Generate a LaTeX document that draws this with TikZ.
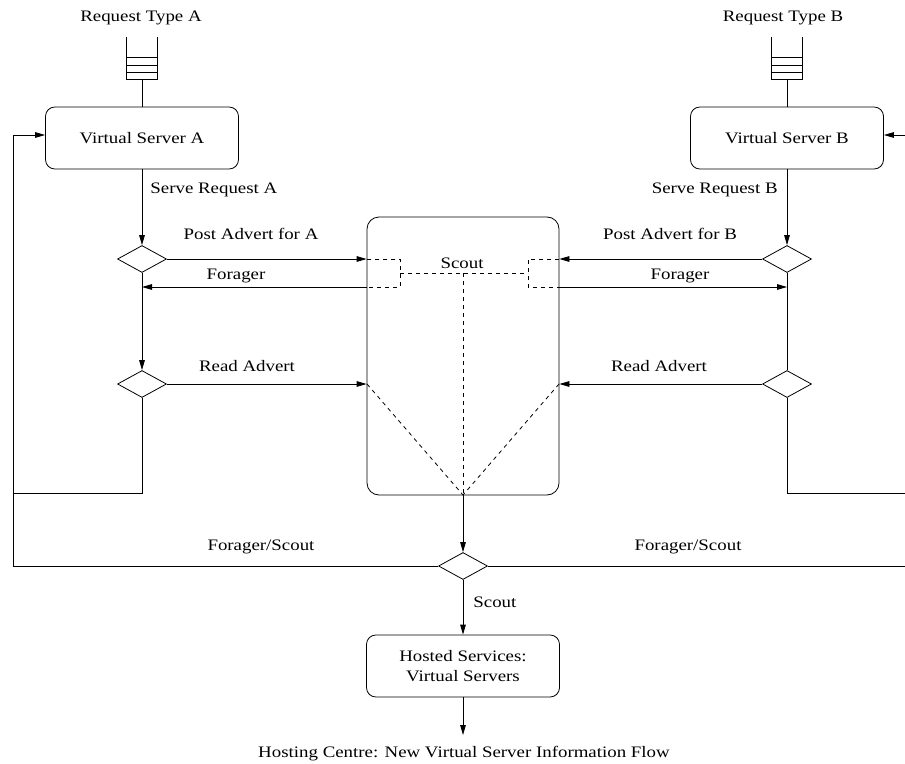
\documentclass[tikz,border=0pt]{standalone}
\usepackage{fontspec}
\setmainfont{Liberation Serif}[FakeStretch=1.18]
\usetikzlibrary{arrows.meta,shapes.geometric}
\begin{document}
\begin{tikzpicture}[x=0.75pt,y=-0.75pt,
  font=\fontsize{12}{14.5}\selectfont, line width=0.6pt,
  box/.style={draw, rounded corners=7pt, inner sep=0pt, minimum width=144.75pt, minimum height=46.5pt},
  bigbox/.style={draw, rounded corners=9pt, inner sep=0pt, minimum width=144pt, minimum height=208.5pt},
  dia/.style={draw, diamond, inner sep=0pt, minimum width=36.75pt, minimum height=20.25pt},
  arr/.style={-{Triangle[length=7.5pt,width=4.2pt]}},
  dsh/.style={dash pattern=on 3pt off 3pt},
  lbl/.style={inner sep=0pt}]
\useasboundingbox (0,0) rectangle (905,763);

% queues
\foreach \cx/\nm in {142/qa,787/qb}{
  \draw (\cx-15.5,37) -- (\cx-15.5,79) -- (\cx+15.5,79) -- (\cx+15.5,37);
  \draw (\cx-15.5,57) -- (\cx+15.5,57);
  \draw (\cx-15.5,65) -- (\cx+15.5,65);
  \draw (\cx-15.5,72) -- (\cx+15.5,72);
  \coordinate (\nm) at (\cx,79);
}
\node[lbl] (rta) at (141,18) {Request Type A};
\node[lbl] (rtb) at (783,18) {Request Type B};

% boxes
\node[box] (vsa) at (142,138) {Virtual Server A};
\node[box] (vsb) at (787,138) {Virtual Server B};
\node[bigbox] (scout) at (463,356) {};
\node[box, align=center] (host) at (463,666) {Hosted Services:\\Virtual Servers};

% diamonds
\node[dia] (a1) at (142,259) {};
\node[dia] (a2) at (142,384) {};
\node[dia] (b1) at (787,259) {};
\node[dia] (b2) at (787,384) {};
\node[dia] (c)  at (463,566) {};

% coordinates
\coordinate (fa) at (367,287);
\coordinate (fb) at (559,287);
\coordinate (la) at (13,493);
\coordinate (lb) at (905,493);
\coordinate (ll) at (13,566);
\coordinate (rl) at (905,566);
\coordinate (rin) at (905,135);
\coordinate (lin) at (13,135);
\coordinate (out) at (463,735);
\coordinate (sc) at (463,273);
\coordinate (sb) at (463,495);

% queue to servers
\draw (qa) -- (vsa.north);
\draw (qb) -- (vsb.north);

% left side
\draw[arr] (vsa.south) -- (a1.north);
\draw[arr] (a1.east) -- (a1.east -| scout.west);
\draw[arr] (fa) -- (fa -| a1);
\draw[arr] (a1.south) -- (a2.north);
\draw[arr] (a2.east) -- (a2.east -| scout.west);
\draw (a2.south) -- (a2 |- la) -- (la);
\draw[arr] (c.west) -- (ll) -- (lin) -- (lin -| vsa.west);

% right side
\draw[arr] (vsb.south) -- (b1.north);
\draw[arr] (b1.west) -- (b1.west -| scout.east);
\draw[arr] (fb) -- (fb -| b1);
\draw (b1.south) -- (b2.north);
\draw[arr] (b2.west) -- (b2.west -| scout.east);
\draw (b2.south) -- (b2 |- lb) -- (lb);
\draw (c.east) -- (rl);
\draw[arr] (rin) -- (rin -| vsb.east);

% centre
\draw[arr] (scout.south) -- (c.north);
\draw[arr] (c.south) -- (host.north);
\draw[arr] (host.south) -- (out);

% dashed scout structure
\draw[dsh] (367,259) -- (400,259) -- (400,287) -- (fa);
\draw[dsh] (559,259) -- (528,259) -- (528,287) -- (fb);
\draw[dsh] (400,273) -- (528,273);
\draw[dsh] (sc) -- (sb);
\draw[dsh] (367,384) -- (sb);
\draw[dsh] (559,384) -- (sb);

% labels
\node[lbl, anchor=west] (sra) at (150,190) {Serve Request A};
\node[lbl, anchor=east] (srb) at (778,190) {Serve Request B};
\node[lbl] (pa) at (251,234) {Post Advert for A};
\node[lbl] (pb) at (670,234) {Post Advert for B};
\node[lbl] (fla) at (236,276) {Forager};
\node[lbl] (flb) at (680,276) {Forager};
\node[lbl] (sl) at (462,263) {Scout};
\node[lbl] (raa) at (247,366) {Read Advert};
\node[lbl] (rab) at (659,366) {Read Advert};
\node[lbl] (fsa) at (261,547) {Forager/Scout};
\node[lbl] (fsb) at (688,547) {Forager/Scout};
\node[lbl, anchor=west] (s2) at (473,602) {Scout};
\node[lbl] (cap) at (464,754) {Hosting Centre: New Virtual Server Information Flow};
\end{tikzpicture}
\end{document}
